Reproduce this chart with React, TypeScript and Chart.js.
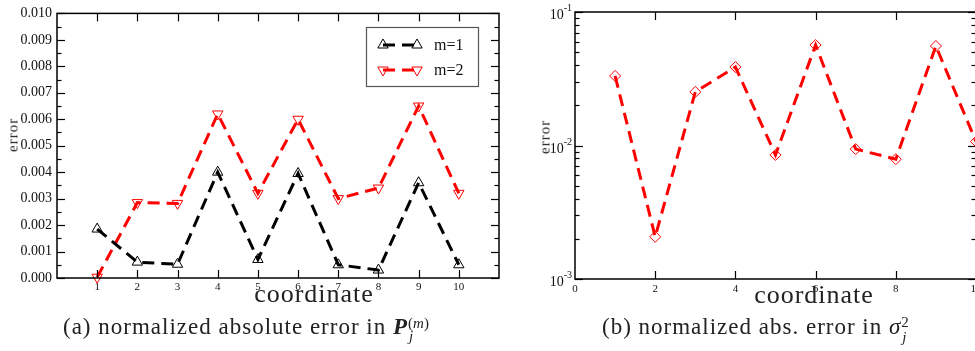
import React, { useEffect, useRef } from "react";
import { Chart, registerables } from "chart.js";

Chart.register(...registerables);

const SERIF = "'Liberation Serif', 'Times New Roman', serif";

// coordinate index j
const coordinates = [1, 2, 3, 4, 5, 6, 7, 8, 9, 10];

// (a) normalized absolute error in P_j^(m)
const errorPm1 = [0.00185, 0.0006, 0.00052, 0.004, 0.0007, 0.00395, 0.0005, 0.0003, 0.0036, 0.0005];
const errorPm2 = [0.00003, 0.00285, 0.00282, 0.0062, 0.0032, 0.006, 0.003, 0.0034, 0.0065, 0.0032];
const seriesLabels = ["m=1", "m=2"];

// (b) normalized abs. error in sigma_j^2
const errorSigma2 = [0.0332, 0.00207, 0.0252, 0.0387, 0.0085, 0.0566, 0.0094, 0.0079, 0.0556, 0.0107];

// axis ranges
const panelAX = { min: 0, max: 11 };
const panelAY = { min: 0, max: 0.01, step: 0.001 };
const panelBX = { min: 0, max: 10, step: 2 };
const panelBY = { min: 0.001, max: 0.1 };

function markerPath(ctx: CanvasRenderingContext2D, style: string, x: number, y: number, r: number, rotationDeg: number) {
  let rad = (rotationDeg * Math.PI) / 180;
  ctx.beginPath();
  if (style === "triangle") {
    ctx.moveTo(x + Math.sin(rad) * r, y - Math.cos(rad) * r);
    rad += (2 * Math.PI) / 3;
    ctx.lineTo(x + Math.sin(rad) * r, y - Math.cos(rad) * r);
    rad += (2 * Math.PI) / 3;
    ctx.lineTo(x + Math.sin(rad) * r, y - Math.cos(rad) * r);
  } else {
    ctx.moveTo(x - r, y);
    ctx.lineTo(x, y - r);
    ctx.lineTo(x + r, y);
    ctx.lineTo(x, y + r);
  }
  ctx.closePath();
  ctx.stroke();
}

// Closed frame with inward major/minor tick marks on all four sides
const frameTicks = {
  id: "frameTicks",
  afterDatasetsDraw(chart: any) {
    const { ctx, chartArea: a } = chart;
    const xs = chart.scales.x;
    const ys = chart.scales.y;
    const seg = (x1: number, y1: number, x2: number, y2: number) => {
      ctx.beginPath();
      ctx.moveTo(x1, y1);
      ctx.lineTo(x2, y2);
      ctx.stroke();
    };
    const major = 8;
    const minor = 4.5;
    ctx.save();
    ctx.strokeStyle = "#000";
    ctx.lineWidth = 1.2;
    for (const t of xs.ticks) {
      const px = Math.round(xs.getPixelForValue(t.value)) + 0.5;
      if (px <= a.left + 1 || px >= a.right - 1) continue;
      seg(px, a.bottom, px, a.bottom - major);
      seg(px, a.top, px, a.top + major);
    }
    const yTick = (v: number, len: number) => {
      const py = Math.round(ys.getPixelForValue(v)) + 0.5;
      if (py < a.top - 0.5 || py > a.bottom + 0.5) return;
      seg(a.left, py, a.left + len, py);
      seg(a.right, py, a.right - len, py);
    };
    if (ys.type === "logarithmic") {
      const lo = Math.floor(Math.log10(ys.min));
      const hi = Math.ceil(Math.log10(ys.max));
      for (let e = lo; e <= hi; e++) {
        for (let m = 1; m <= 9; m++) {
          const v = m * Math.pow(10, e);
          if (v < ys.min * 0.999 || v > ys.max * 1.001) continue;
          yTick(v, m === 1 ? major : minor);
        }
      }
    } else {
      const vals = ys.ticks.map((t: any) => t.value);
      vals.forEach((v: number, i: number) => {
        yTick(v, major);
        if (i < vals.length - 1) yTick((v + vals[i + 1]) / 2, minor);
      });
    }
    ctx.lineWidth = 1.5;
    ctx.strokeRect(a.left, a.top, a.right - a.left, a.bottom - a.top);
    ctx.restore();
  },
};

// "10" with a raised exponent at every decade of a log axis
const decadeLabels = {
  id: "decadeLabels",
  afterDraw(chart: any) {
    const ys = chart.scales.y;
    if (ys.type !== "logarithmic") return;
    const { ctx, chartArea: a } = chart;
    ctx.save();
    ctx.fillStyle = "#111";
    ctx.textBaseline = "alphabetic";
    ctx.textAlign = "right";
    const lo = Math.round(Math.log10(ys.min));
    const hi = Math.round(Math.log10(ys.max));
    for (let e = lo; e <= hi; e++) {
      const py = ys.getPixelForValue(Math.pow(10, e));
      const sup = String(e);
      ctx.font = `10px ${SERIF}`;
      const wSup = ctx.measureText(sup).width;
      const xr = a.left - 3;
      ctx.fillText(sup, xr, py - 1);
      ctx.font = `14px ${SERIF}`;
      ctx.fillText("10", xr - wSup, py + 7);
    }
    ctx.restore();
  },
};

// Boxed legend: marker, dashed stroke, marker, label
const boxLegend = {
  id: "boxLegend",
  afterDatasetsDraw(chart: any, _args: any, opts: any) {
    if (!opts || !opts.box) return;
    const { ctx } = chart;
    const [x, y, w, h] = opts.box;
    ctx.save();
    ctx.fillStyle = "#fff";
    ctx.fillRect(x, y, w, h);
    ctx.strokeStyle = "#555";
    ctx.lineWidth = 1.2;
    ctx.strokeRect(x + 0.5, y + 0.5, w, h);
    chart.data.datasets.forEach((ds: any, i: number) => {
      const cy = y + opts.firstRow + i * opts.rowGap;
      const x1 = x + opts.markerA;
      const x2 = x + opts.markerB;
      ctx.strokeStyle = ds.borderColor;
      ctx.lineWidth = ds.borderWidth;
      ctx.setLineDash(ds.borderDash);
      ctx.beginPath();
      ctx.moveTo(x1, cy);
      ctx.lineTo(x2, cy);
      ctx.stroke();
      ctx.setLineDash([]);
      ctx.lineWidth = ds.pointBorderWidth;
      ctx.strokeStyle = ds.pointBorderColor;
      markerPath(ctx, ds.pointStyle, x1, cy, ds.pointRadius, ds.pointRotation || 0);
      markerPath(ctx, ds.pointStyle, x2, cy, ds.pointRadius, ds.pointRotation || 0);
      ctx.fillStyle = "#111";
      ctx.font = `16px ${SERIF}`;
      ctx.textAlign = "left";
      ctx.textBaseline = "middle";
      ctx.fillText(ds.label, x + opts.textX, cy + 1);
    });
    ctx.restore();
  },
};

const lineStyle = (color: string) => ({
  borderColor: color,
  borderWidth: 3,
  borderDash: [12, 7],
  pointBorderColor: color,
  pointBackgroundColor: "rgba(0,0,0,0)",
  pointBorderWidth: 1,
  pointRadius: 6,
  pointHoverRadius: 6,
  fill: false,
  tension: 0,
  clip: false as const,
});

const tickFont = (size: number) => ({ family: SERIF, size });

function useChart(config: () => any) {
  const ref = useRef<HTMLCanvasElement | null>(null);
  useEffect(() => {
    if (!ref.current) return;
    const chart = new Chart(ref.current, config());
    return () => chart.destroy();
  }, []);
  return ref;
}

function PanelA() {
  const ref = useChart(() => ({
    type: "line",
    data: {
      datasets: [
        {
          label: seriesLabels[0],
          data: coordinates.map((c, i) => ({ x: c, y: errorPm1[i] })),
          ...lineStyle("#000000"),
          pointStyle: "triangle",
          pointRotation: 0,
        },
        {
          label: seriesLabels[1],
          data: coordinates.map((c, i) => ({ x: c, y: errorPm2[i] })),
          ...lineStyle("#ff0000"),
          pointStyle: "triangle",
          pointRotation: 180,
        },
      ],
    },
    options: {
      responsive: false,
      animation: false,
      events: [],
      layout: { padding: { top: 10, right: 11, left: 0, bottom: 0 } },
      plugins: {
        legend: { display: false },
        tooltip: { enabled: false },
        boxLegend: { box: [366, 27, 112, 59], firstRow: 18, rowGap: 25, markerA: 17, markerB: 51, textX: 68 },
      },
      scales: {
        x: {
          type: "linear",
          min: panelAX.min,
          max: panelAX.max,
          grid: { display: false, drawTicks: false },
          border: { display: false },
          ticks: {
            stepSize: 1,
            autoSkip: false,
            maxRotation: 0,
            padding: 3,
            color: "#111",
            font: tickFont(11),
            callback: (v: number) => (v >= 1 && v <= 10 ? String(v) : ""),
          },
          afterFit: (s: any) => {
            s.height = 73;
          },
        },
        y: {
          type: "linear",
          min: panelAY.min,
          max: panelAY.max,
          grid: { display: false, drawTicks: false },
          border: { display: false },
          ticks: {
            stepSize: panelAY.step,
            autoSkip: false,
            padding: 5,
            color: "#111",
            font: tickFont(14),
            callback: (v: number) => v.toFixed(3),
          },
          afterFit: (s: any) => {
            s.width = 57;
          },
        },
      },
    },
    plugins: [frameTicks, boxLegend],
  }));
  return <canvas ref={ref} width={510} height={351} style={{ position: "absolute", left: 0, top: 0 }} />;
}

function PanelB() {
  const ref = useChart(() => ({
    type: "line",
    data: {
      datasets: [
        {
          label: "sigma",
          data: coordinates.map((c, i) => ({ x: c, y: errorSigma2[i] })),
          ...lineStyle("#ff0000"),
          pointStyle: "rectRot",
          pointRadius: 5.5,
          pointHoverRadius: 5.5,
        },
      ],
    },
    options: {
      responsive: false,
      animation: false,
      events: [],
      layout: { padding: { top: 12, right: 24, left: 0, bottom: 0 } },
      plugins: { legend: { display: false }, tooltip: { enabled: false } },
      scales: {
        x: {
          type: "linear",
          min: panelBX.min,
          max: panelBX.max,
          grid: { display: false, drawTicks: false },
          border: { display: false },
          ticks: {
            stepSize: panelBX.step,
            autoSkip: false,
            maxRotation: 0,
            padding: 4,
            color: "#111",
            font: tickFont(11),
          },
          afterFit: (s: any) => {
            s.height = 72;
          },
        },
        y: {
          type: "logarithmic",
          min: panelBY.min,
          max: panelBY.max,
          grid: { display: false, drawTicks: false },
          border: { display: false },
          ticks: { display: false },
          afterFit: (s: any) => {
            s.width = 75;
          },
        },
      },
    },
    plugins: [frameTicks, decadeLabels],
  }));
  return <canvas ref={ref} width={500} height={351} style={{ position: "absolute", left: 500, top: 0 }} />;
}

function Scripts({ sup, sub, raise, lower }: { sup: React.ReactNode; sub: React.ReactNode; raise: number; lower: number }) {
  return (
    <span style={{ position: "relative", display: "inline-block", fontSize: 15, lineHeight: 1, letterSpacing: 0 }}>
      <span style={{ position: "relative", top: -raise }}>{sup}</span>
      <span style={{ position: "absolute", left: 1, top: lower, fontStyle: "italic" }}>{sub}</span>
    </span>
  );
}

const textBase: React.CSSProperties = {
  position: "absolute",
  fontFamily: SERIF,
  color: "#222",
  lineHeight: 1,
  whiteSpace: "nowrap",
};

export default function App() {
  return (
    <div
      style={{
        position: "fixed",
        left: 0,
        top: 0,
        width: 975,
        height: 351,
        overflow: "hidden",
        background: "#fff",
      }}
    >
      <PanelA />
      <PanelB />

      <div style={{ ...textBase, left: 13, top: 135, fontSize: 15, letterSpacing: 1, transform: "translate(-50%, -50%) rotate(-90deg)" }}>
        error
      </div>
      <div style={{ ...textBase, left: 545, top: 137, fontSize: 15, letterSpacing: 1, transform: "translate(-50%, -50%) rotate(-90deg)" }}>
        error
      </div>

      <div style={{ ...textBase, left: 314, top: 281, fontSize: 26, letterSpacing: 1, transform: "translateX(-50%)" }}>
        coordinate
      </div>
      <div style={{ ...textBase, left: 814, top: 282, fontSize: 26, letterSpacing: 1, transform: "translateX(-50%)" }}>
        coordinate
      </div>

      <div style={{ ...textBase, left: 63, top: 315, fontSize: 23, letterSpacing: 1 }}>
        (a) normalized absolute error in{" "}
        <span style={{ fontWeight: "bold", fontStyle: "italic" }}>P</span>
        <Scripts
          sup={
            <span>
              (<i>m</i>)
            </span>
          }
          sub="j"
          raise={6}
          lower={7}
        />
      </div>
      <div style={{ ...textBase, left: 602, top: 315, fontSize: 23, letterSpacing: 1 }}>
        (b) normalized abs. error in <i>σ</i>
        <Scripts sup="2" sub="j" raise={7} lower={8} />
      </div>
    </div>
  );
}
